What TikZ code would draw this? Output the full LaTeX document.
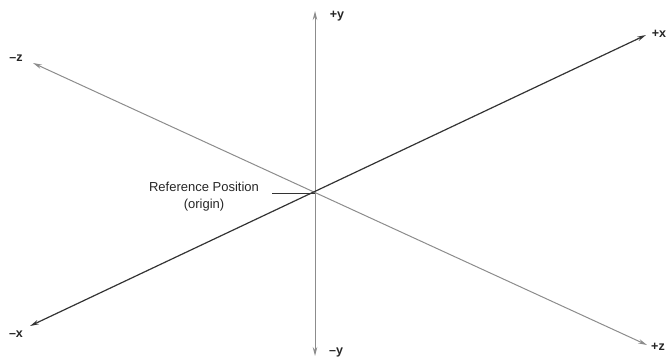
\documentclass[tikz,border=0pt]{standalone}
\usepackage{fontspec}
\setmainfont{Liberation Sans}
\usetikzlibrary{arrows.meta}
\begin{document}
\begin{tikzpicture}[x=1pt,y=-1pt,
  axisdark/.style={draw=black!80, line width=1.2pt, {Stealth[length=9pt,width=4.5pt]}-{Stealth[length=9pt,width=4.5pt]}},
  axisgrey/.style={draw=black!45, line width=1pt, {Stealth[length=9pt,width=4.5pt]}-{Stealth[length=9pt,width=4.5pt]}},
  axlabel/.style={font=\fontsize{12.5}{14}\selectfont\bfseries, text=black!85, inner sep=0pt},
  reflabel/.style={font=\fontsize{13}{17}\selectfont, text=black!85, align=center, inner sep=0pt}]
\useasboundingbox (0,0) rectangle (668,362);
\coordinate (O) at (315,193);
\coordinate (xm) at (30,326);
\coordinate (xp) at (646,35);
\coordinate (zm) at (33,63);
\coordinate (zp) at (647,345);
\coordinate (ym) at (315,356);
\coordinate (yp) at (315,11);
\coordinate (lead) at (272,193);
\draw[axisgrey] (ym) -- (yp);
\draw[axisgrey] (zm) -- (zp);
\draw[axisdark] (xm) -- (xp);
\draw[draw=black!80, line width=1pt] (lead) -- (O);
\node[axlabel] (lzm) at (16,58) {–z};
\node[axlabel] (lyp) at (337,16) {+y};
\node[axlabel] (lxp) at (659,34) {+x};
\node[axlabel] (lxm) at (16,334) {–x};
\node[axlabel] (lym) at (336,352) {–y};
\node[axlabel] (lzp) at (658,347) {+z};
\node[reflabel] (ref) at (204,197) {Reference Position\\(origin)};
\end{tikzpicture}
\end{document}
